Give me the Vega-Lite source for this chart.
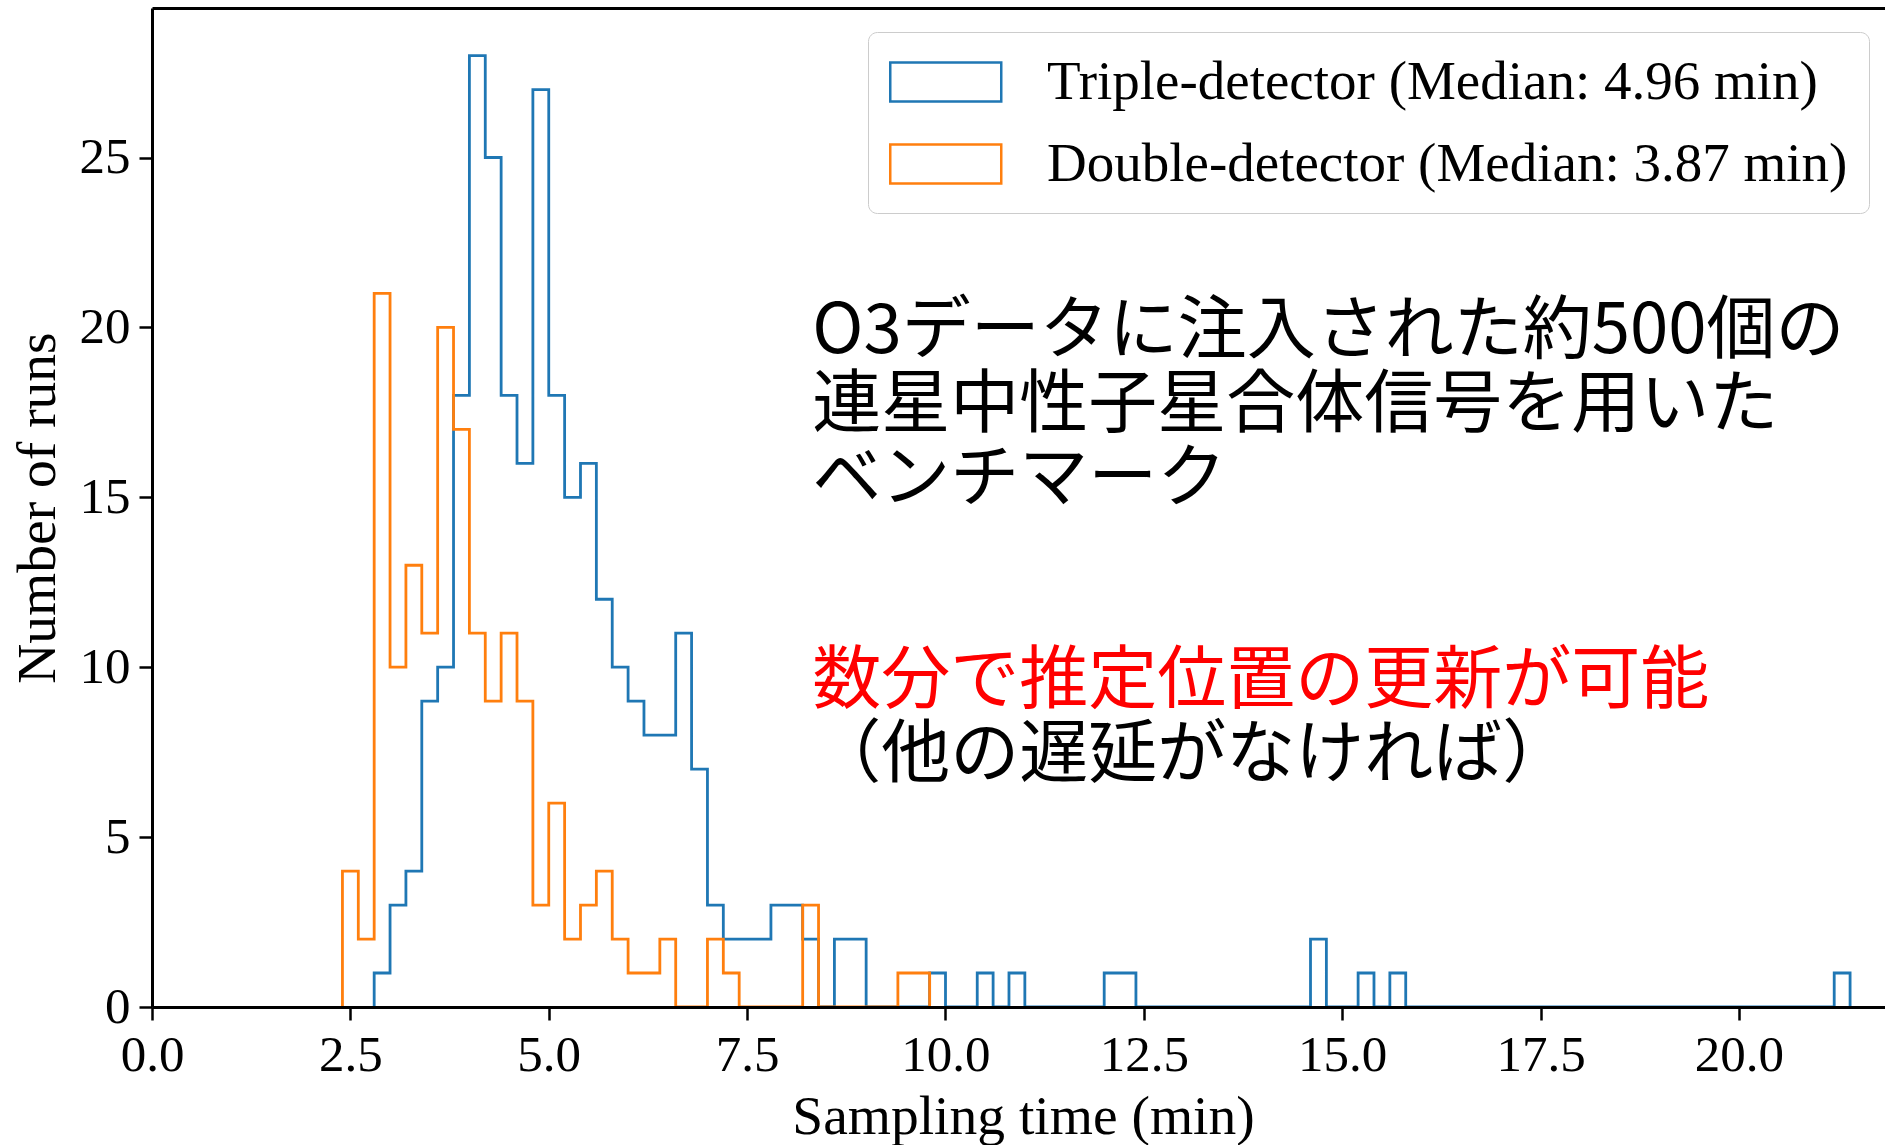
{
  "$schema": "https://vega.github.io/schema/vega-lite/v6.json",
  "autosize": {"type": "none"},
  "width": 1733,
  "height": 999,
  "padding": {"left": 152, "top": 8, "right": 0, "bottom": 138},
  "background": "white",
  "config": {
    "view": {"stroke": null},
    "axis": {
      "grid": false,
      "labelFont": "Liberation Serif",
      "titleFont": "Liberation Serif",
      "labelColor": "black",
      "titleColor": "black",
      "domainColor": "black",
      "tickColor": "black",
      "domainWidth": 3,
      "tickWidth": 2.5,
      "tickSize": 13,
      "labelFontSize": 51,
      "titleFontSize": 55.5,
      "titleFontWeight": "normal",
      "labelFlush": false
    },
    "legend": {
      "orient": "none",
      "legendX": 716,
      "legendY": 24,
      "symbolType": "M-1,-0.7H3V0.7H-1Z",
      "symbolSize": 3080,
      "symbolStrokeWidth": 2.5,
      "symbolFillColor": "transparent",
      "symbolOffset": 0,
      "labelFont": "Liberation Serif",
      "labelFontSize": 55,
      "labelColor": "black",
      "labelOffset": 100,
      "labelLimit": 0,
      "rowPadding": 25,
      "padding": 21,
      "fillColor": "rgba(255,255,255,0.8)",
      "strokeColor": "#cccccc",
      "cornerRadius": 9
    }
  },
  "datasets": {
    "hist": [
      {"detector": "Triple-detector (Median: 4.96 min)", "t": 2.8, "n": 0},
      {"detector": "Triple-detector (Median: 4.96 min)", "t": 2.8, "n": 1},
      {"detector": "Triple-detector (Median: 4.96 min)", "t": 3.0, "n": 3},
      {"detector": "Triple-detector (Median: 4.96 min)", "t": 3.2, "n": 4},
      {"detector": "Triple-detector (Median: 4.96 min)", "t": 3.4, "n": 9},
      {"detector": "Triple-detector (Median: 4.96 min)", "t": 3.6, "n": 10},
      {"detector": "Triple-detector (Median: 4.96 min)", "t": 3.8, "n": 18},
      {"detector": "Triple-detector (Median: 4.96 min)", "t": 4.0, "n": 28},
      {"detector": "Triple-detector (Median: 4.96 min)", "t": 4.2, "n": 25},
      {"detector": "Triple-detector (Median: 4.96 min)", "t": 4.4, "n": 18},
      {"detector": "Triple-detector (Median: 4.96 min)", "t": 4.6, "n": 16},
      {"detector": "Triple-detector (Median: 4.96 min)", "t": 4.8, "n": 27},
      {"detector": "Triple-detector (Median: 4.96 min)", "t": 5.0, "n": 18},
      {"detector": "Triple-detector (Median: 4.96 min)", "t": 5.2, "n": 15},
      {"detector": "Triple-detector (Median: 4.96 min)", "t": 5.4, "n": 16},
      {"detector": "Triple-detector (Median: 4.96 min)", "t": 5.6, "n": 12},
      {"detector": "Triple-detector (Median: 4.96 min)", "t": 5.8, "n": 10},
      {"detector": "Triple-detector (Median: 4.96 min)", "t": 6.0, "n": 9},
      {"detector": "Triple-detector (Median: 4.96 min)", "t": 6.2, "n": 8},
      {"detector": "Triple-detector (Median: 4.96 min)", "t": 6.4, "n": 8},
      {"detector": "Triple-detector (Median: 4.96 min)", "t": 6.6, "n": 11},
      {"detector": "Triple-detector (Median: 4.96 min)", "t": 6.8, "n": 7},
      {"detector": "Triple-detector (Median: 4.96 min)", "t": 7.0, "n": 3},
      {"detector": "Triple-detector (Median: 4.96 min)", "t": 7.2, "n": 2},
      {"detector": "Triple-detector (Median: 4.96 min)", "t": 7.4, "n": 2},
      {"detector": "Triple-detector (Median: 4.96 min)", "t": 7.6, "n": 2},
      {"detector": "Triple-detector (Median: 4.96 min)", "t": 7.8, "n": 3},
      {"detector": "Triple-detector (Median: 4.96 min)", "t": 8.0, "n": 3},
      {"detector": "Triple-detector (Median: 4.96 min)", "t": 8.2, "n": 2},
      {"detector": "Triple-detector (Median: 4.96 min)", "t": 8.4, "n": 0},
      {"detector": "Triple-detector (Median: 4.96 min)", "t": 8.6, "n": 2},
      {"detector": "Triple-detector (Median: 4.96 min)", "t": 8.8, "n": 2},
      {"detector": "Triple-detector (Median: 4.96 min)", "t": 9.0, "n": 0},
      {"detector": "Triple-detector (Median: 4.96 min)", "t": 9.8, "n": 1},
      {"detector": "Triple-detector (Median: 4.96 min)", "t": 10.0, "n": 0},
      {"detector": "Triple-detector (Median: 4.96 min)", "t": 10.4, "n": 1},
      {"detector": "Triple-detector (Median: 4.96 min)", "t": 10.6, "n": 0},
      {"detector": "Triple-detector (Median: 4.96 min)", "t": 10.8, "n": 1},
      {"detector": "Triple-detector (Median: 4.96 min)", "t": 11.0, "n": 0},
      {"detector": "Triple-detector (Median: 4.96 min)", "t": 12.0, "n": 1},
      {"detector": "Triple-detector (Median: 4.96 min)", "t": 12.2, "n": 1},
      {"detector": "Triple-detector (Median: 4.96 min)", "t": 12.4, "n": 0},
      {"detector": "Triple-detector (Median: 4.96 min)", "t": 14.6, "n": 2},
      {"detector": "Triple-detector (Median: 4.96 min)", "t": 14.8, "n": 0},
      {"detector": "Triple-detector (Median: 4.96 min)", "t": 15.2, "n": 1},
      {"detector": "Triple-detector (Median: 4.96 min)", "t": 15.4, "n": 0},
      {"detector": "Triple-detector (Median: 4.96 min)", "t": 15.6, "n": 1},
      {"detector": "Triple-detector (Median: 4.96 min)", "t": 15.8, "n": 0},
      {"detector": "Triple-detector (Median: 4.96 min)", "t": 21.2, "n": 1},
      {"detector": "Triple-detector (Median: 4.96 min)", "t": 21.4, "n": 0},
      {"detector": "Double-detector (Median: 3.87 min)", "t": 2.4, "n": 0},
      {"detector": "Double-detector (Median: 3.87 min)", "t": 2.4, "n": 4},
      {"detector": "Double-detector (Median: 3.87 min)", "t": 2.6, "n": 2},
      {"detector": "Double-detector (Median: 3.87 min)", "t": 2.8, "n": 21},
      {"detector": "Double-detector (Median: 3.87 min)", "t": 3.0, "n": 10},
      {"detector": "Double-detector (Median: 3.87 min)", "t": 3.2, "n": 13},
      {"detector": "Double-detector (Median: 3.87 min)", "t": 3.4, "n": 11},
      {"detector": "Double-detector (Median: 3.87 min)", "t": 3.6, "n": 20},
      {"detector": "Double-detector (Median: 3.87 min)", "t": 3.8, "n": 17},
      {"detector": "Double-detector (Median: 3.87 min)", "t": 4.0, "n": 11},
      {"detector": "Double-detector (Median: 3.87 min)", "t": 4.2, "n": 9},
      {"detector": "Double-detector (Median: 3.87 min)", "t": 4.4, "n": 11},
      {"detector": "Double-detector (Median: 3.87 min)", "t": 4.6, "n": 9},
      {"detector": "Double-detector (Median: 3.87 min)", "t": 4.8, "n": 3},
      {"detector": "Double-detector (Median: 3.87 min)", "t": 5.0, "n": 6},
      {"detector": "Double-detector (Median: 3.87 min)", "t": 5.2, "n": 2},
      {"detector": "Double-detector (Median: 3.87 min)", "t": 5.4, "n": 3},
      {"detector": "Double-detector (Median: 3.87 min)", "t": 5.6, "n": 4},
      {"detector": "Double-detector (Median: 3.87 min)", "t": 5.8, "n": 2},
      {"detector": "Double-detector (Median: 3.87 min)", "t": 6.0, "n": 1},
      {"detector": "Double-detector (Median: 3.87 min)", "t": 6.2, "n": 1},
      {"detector": "Double-detector (Median: 3.87 min)", "t": 6.4, "n": 2},
      {"detector": "Double-detector (Median: 3.87 min)", "t": 6.6, "n": 0},
      {"detector": "Double-detector (Median: 3.87 min)", "t": 7.0, "n": 2},
      {"detector": "Double-detector (Median: 3.87 min)", "t": 7.2, "n": 1},
      {"detector": "Double-detector (Median: 3.87 min)", "t": 7.4, "n": 0},
      {"detector": "Double-detector (Median: 3.87 min)", "t": 8.2, "n": 3},
      {"detector": "Double-detector (Median: 3.87 min)", "t": 8.4, "n": 0},
      {"detector": "Double-detector (Median: 3.87 min)", "t": 9.4, "n": 1},
      {"detector": "Double-detector (Median: 3.87 min)", "t": 9.6, "n": 1},
      {"detector": "Double-detector (Median: 3.87 min)", "t": 9.8, "n": 0}
    ],
    "notes": [
      {"text": "O3データに注入された約500個の", "t": 8.32, "n": 19.25},
      {"text": "連星中性子星合体信号を用いた", "t": 8.32, "n": 17.07},
      {"text": "ベンチマーク", "t": 8.32, "n": 14.89},
      {"text": "（他の遅延がなければ）", "t": 8.32, "n": 6.77}
    ],
    "notesRed": [
      {"text": "数分で推定位置の更新が可能", "t": 8.32, "n": 8.95}
    ]
  },
  "layer": [
    {
      "data": {"name": "hist"},
      "transform": [{"filter": "indexof(datum.detector, 'Triple') === 0"}],
      "mark": {"type": "line", "interpolate": "step-after", "strokeWidth": 2.8, "strokeJoin": "miter", "strokeCap": "butt"},
      "encoding": {
        "x": {
          "field": "t", "type": "quantitative",
          "scale": {"domain": [0, 21.84], "nice": false, "zero": true},
          "axis": {
            "orient": "bottom",
            "values": [0, 2.5, 5, 7.5, 10, 12.5, 15, 17.5, 20],
            "format": ".1f",
            "labelPadding": 10,
            "title": "Sampling time (min)",
            "titlePadding": 9,
            "titleX": 871,
            "zindex": 2
          }
        },
        "y": {
          "field": "n", "type": "quantitative",
          "scale": {"domain": [0, 29.4], "nice": false},
          "axis": {
            "orient": "left",
            "values": [0, 5, 10, 15, 20, 25],
            "format": "d",
            "labelPadding": 9,
            "title": "Number of runs",
            "titlePadding": 13,
            "zindex": 2
          }
        },
        "color": {
          "field": "detector", "type": "nominal",
          "scale": {
            "domain": ["Triple-detector (Median: 4.96 min)", "Double-detector (Median: 3.87 min)"],
            "range": ["#1f77b4", "#ff7f0e"]
          },
          "legend": {"title": null}
        }
      }
    },
    {
      "data": {"name": "hist"},
      "transform": [{"filter": "indexof(datum.detector, 'Double') === 0"}],
      "mark": {"type": "line", "interpolate": "step-after", "strokeWidth": 2.8, "strokeJoin": "miter", "strokeCap": "butt"},
      "encoding": {
        "x": {
          "field": "t", "type": "quantitative",
          "axis": {"orient": "top", "labels": false, "ticks": false, "title": null, "domain": true, "zindex": 2}
        },
        "y": {"field": "n", "type": "quantitative", "axis": null},
        "color": {"field": "detector", "type": "nominal", "legend": {"title": null}}
      }
    },
    {
      "data": {"name": "notes"},
      "mark": {"type": "text", "font": "Noto Sans CJK JP", "fontSize": 69, "align": "left", "baseline": "alphabetic", "color": "black"},
      "encoding": {
        "x": {"field": "t", "type": "quantitative", "axis": null},
        "y": {"field": "n", "type": "quantitative", "axis": null},
        "text": {"field": "text"}
      }
    },
    {
      "data": {"name": "notesRed"},
      "mark": {"type": "text", "font": "Noto Sans CJK JP", "fontSize": 69, "align": "left", "baseline": "alphabetic", "color": "#ff0000"},
      "encoding": {
        "x": {"field": "t", "type": "quantitative", "axis": null},
        "y": {"field": "n", "type": "quantitative", "axis": null},
        "text": {"field": "text"}
      }
    }
  ],
  "resolve": {"axis": {"x": "independent", "y": "independent"}}
}
